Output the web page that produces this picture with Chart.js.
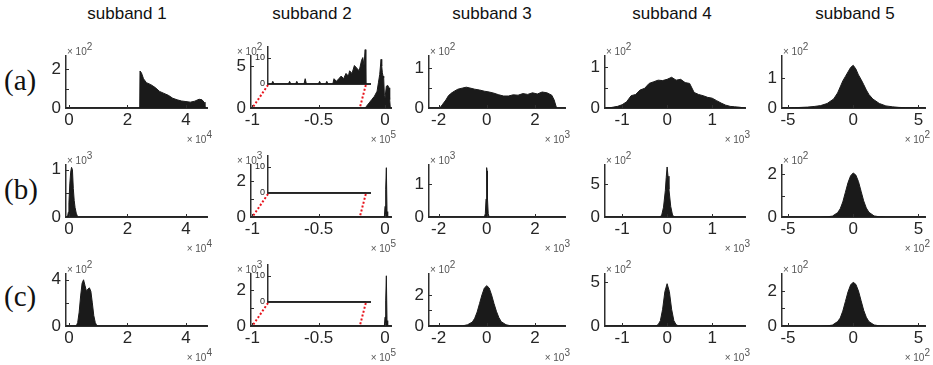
<!DOCTYPE html>
<html>
<head>
<meta charset="utf-8">
<script src="https://cdn.jsdelivr.net/npm/chart.js@4.4.0/dist/chart.umd.min.js"></script>
<style>
  body { margin: 0; background: #fff; }
  #fig { position: relative; width: 933px; height: 365px; overflow: hidden; font-family: "Liberation Sans", Arial, sans-serif; }
  #fig canvas { position: absolute; }
  .title { position: absolute; top: 4px; font-size: 17px; color: #111; transform: translateX(-50%); white-space: nowrap; }
  .row { position: absolute; left: 4px; font-family: "Liberation Serif", "Times New Roman", serif; font-size: 29px; color: #111; }
  .exp { position: absolute; font-size: 10px; color: #555; white-space: nowrap; line-height: 12px; }
  .exp sup { font-size: 10px; vertical-align: 5px; line-height: 0; }
</style>
</head>
<body>
<div id="fig"></div>
<script>
// ---- data (x in units of 10^xExp, counts in units of 10^yExp) ----
const titles = ['subband 1', 'subband 2', 'subband 3', 'subband 4', 'subband 5'];
const rowNames = ['(a)', '(b)', '(c)'];

const xMin = [-0.1, -1.01, -2.4, -1.38, -5.46];
const xMax = [4.72, 0.045, 3.25, 1.73, 5.5];
const xTicks = [[0, 2, 4], [-1, -0.5, 0], [-2, 0, 2], [-1, 0, 1], [-5, 0, 5]];
const xExp = [4, 5, 3, 3, 2];

const rowAYMax = [2.67, 6.2, 1.3, 1.27, 1.73];
const rowBYMax = [1.1, 2.9, 1.58, 7.9, 2.42];
const rowCYMax = [4.5, 2.9, 3.35, 5.9, 2.97];
const rowAYLabels = [[0, 2], [0, 5], [0, 1], [0, 1], [0, 1]];
const rowBYLabels = [[0, 1], [0, 2], [0, 1], [0, 5], [0, 2]];
const rowCYLabels = [[0, 4], [0, 2], [0, 2], [0, 5], [0, 2]];
const rowAYMinor = [[1], [], [0.5], [0.5], []];
const rowBYMinor = [[0.5], [1], [], [], [1]];
const rowCYMinor = [[2], [1], [1], [], [1]];
const rowAYExp = [2, 2, 2, 2, 2];
const rowBYExp = [3, 3, 3, 2, 2];
const rowCYExp = [2, 3, 2, 2, 2];

// row (a)
const a1X = [-0.1, 2.42, 2.43, 2.48, 2.55, 2.65, 2.8, 2.95, 3.1, 3.25, 3.4, 3.55, 3.7, 3.85, 4.0, 4.15, 4.3, 4.45, 4.55, 4.62, 4.65, 4.72];
const a1Y = [0, 0, 1.9, 1.8, 1.5, 1.3, 1.2, 1.05, 0.85, 0.75, 0.65, 0.5, 0.42, 0.36, 0.33, 0.3, 0.35, 0.45, 0.42, 0.3, 0, 0];
const a2X = [-1.01, -0.15, -0.14, -0.12, -0.1, -0.08, -0.06, -0.05, -0.04, -0.03, -0.025, -0.02, -0.015, -0.01, -0.005, 0, 0.01, 0.02, 0.03, 0.035, 0.04];
const a2Y = [0, 0, 0.2, 0.6, 1.0, 1.4, 2.0, 3.0, 4.0, 5.8, 5.0, 4.2, 3.8, 3.6, 1.5, 1.2, 2.6, 2.7, 2.4, 1.0, 0];
const a3X = [-2.4, -1.95, -1.85, -1.7, -1.6, -1.5, -1.35, -1.2, -1.0, -0.85, -0.7, -0.5, -0.3, -0.1, 0.1, 0.3, 0.5, 0.7, 0.9, 1.1, 1.3, 1.5, 1.7, 1.9, 2.1, 2.3, 2.5, 2.7, 2.8, 2.9, 3.25];
const a3Y = [0, 0, 0.08, 0.2, 0.3, 0.36, 0.42, 0.47, 0.5, 0.52, 0.5, 0.47, 0.45, 0.42, 0.4, 0.37, 0.33, 0.3, 0.3, 0.33, 0.32, 0.36, 0.34, 0.38, 0.35, 0.4, 0.38, 0.32, 0.2, 0, 0];
const a4X = [-1.38, -1.25, -1.1, -1.0, -0.9, -0.8, -0.7, -0.6, -0.5, -0.4, -0.3, -0.2, -0.1, 0, 0.1, 0.2, 0.3, 0.4, 0.5, 0.6, 0.7, 0.8, 0.9, 1.0, 1.1, 1.2, 1.3, 1.4, 1.5, 1.6, 1.73];
const a4Y = [0, 0.01, 0.04, 0.08, 0.15, 0.3, 0.33, 0.44, 0.48, 0.6, 0.64, 0.68, 0.67, 0.7, 0.75, 0.68, 0.7, 0.62, 0.6, 0.38, 0.33, 0.3, 0.26, 0.24, 0.18, 0.12, 0.07, 0.04, 0.03, 0.02, 0];
const a5X = [-5.46, -4.5, -4, -3.5, -3, -2.5, -2, -1.5, -1.2, -1, -0.8, -0.6, -0.4, -0.2, 0, 0.2, 0.4, 0.6, 0.8, 1, 1.2, 1.5, 2, 2.5, 3, 3.5, 4, 5.5];
const a5Y = [0, 0.01, 0.02, 0.03, 0.05, 0.08, 0.15, 0.3, 0.5, 0.7, 0.9, 1.05, 1.2, 1.35, 1.42, 1.3, 1.1, 0.95, 0.78, 0.6, 0.45, 0.3, 0.15, 0.07, 0.04, 0.02, 0.01, 0];

// row (b)
const b1X = [-0.1, -0.05, -0.02, 0, 0.03, 0.06, 0.09, 0.12, 0.15, 0.18, 0.21, 0.25, 0.3, 4.72];
const b1Y = [0, 0, 0.1, 0.3, 0.7, 0.95, 1.05, 1.0, 0.6, 0.35, 0.2, 0.08, 0, 0];
const b2X = [-1.01, -0.005, 0, 0.005, 0.01, 0.015, 0.02, 0.045];
const b2Y = [0, 0, 0.6, 1.55, 2.75, 0.3, 0, 0];
const b3X = [-2.4, -0.1, -0.06, -0.03, -0.01, 0, 0.01, 0.03, 0.06, 0.1, 3.25];
const b3Y = [0, 0, 0.1, 0.55, 1.2, 1.5, 1.4, 0.55, 0.1, 0, 0];
const b4X = [-1.38, -0.16, -0.12, -0.08, -0.04, -0.02, 0, 0.02, 0.04, 0.08, 0.12, 0.16, 1.73];
const b4Y = [0, 0, 0.3, 1.5, 4.0, 6.0, 7.6, 6.2, 4.2, 1.6, 0.3, 0, 0];
const b5X = [-5.46, -2.5, -2, -1.6, -1.2, -1, -0.8, -0.6, -0.4, -0.2, 0, 0.2, 0.4, 0.6, 0.8, 1, 1.2, 1.6, 2, 2.5, 5.5];
const b5Y = [0, 0, 0.01, 0.04, 0.2, 0.38, 0.7, 1.15, 1.6, 1.92, 2.05, 1.95, 1.65, 1.2, 0.75, 0.42, 0.22, 0.05, 0.01, 0, 0];

// row (c)
const c1X = [-0.1, 0.2, 0.25, 0.3, 0.35, 0.4, 0.45, 0.5, 0.55, 0.6, 0.65, 0.7, 0.75, 0.8, 0.85, 0.9, 0.95, 1.0, 4.72];
const c1Y = [0, 0, 0, 0.3, 1.2, 2.6, 3.7, 4.0, 3.5, 3.0, 3.2, 3.3, 3.0, 2.0, 0.9, 0.3, 0.05, 0, 0];
const c2X = [-1.01, -0.005, 0, 0.005, 0.01, 0.015, 0.02, 0.045];
const c2Y = [0, 0, 0.5, 1.4, 2.8, 0.3, 0, 0];
const c3X = [-2.4, -1.0, -0.8, -0.6, -0.5, -0.4, -0.3, -0.2, -0.1, 0, 0.1, 0.2, 0.3, 0.4, 0.5, 0.6, 0.8, 1.0, 3.25];
const c3Y = [0, 0.01, 0.08, 0.25, 0.5, 0.9, 1.45, 2.0, 2.45, 2.6, 2.45, 2.0, 1.45, 0.95, 0.55, 0.28, 0.08, 0.01, 0];
const c4X = [-1.38, -0.25, -0.2, -0.15, -0.1, -0.05, 0, 0.05, 0.1, 0.15, 0.2, 0.25, 1.73];
const c4Y = [0, 0.02, 0.15, 0.6, 1.9, 3.9, 4.8, 3.9, 1.9, 0.6, 0.15, 0.02, 0];
const c5X = [-5.46, -2.5, -2, -1.6, -1.2, -1, -0.8, -0.6, -0.4, -0.2, 0, 0.2, 0.4, 0.6, 0.8, 1, 1.2, 1.6, 2, 2.5, 5.5];
const c5Y = [0, 0, 0.01, 0.05, 0.25, 0.45, 0.85, 1.4, 1.95, 2.35, 2.5, 2.38, 2.0, 1.45, 0.9, 0.5, 0.25, 0.06, 0.01, 0, 0];

// zoomed insets of subband 2 (x from -1 to -0.15, raw counts)
const insetXMin = -1, insetXMax = -0.15;
const insetYMax = 14;
const insetYTicks = [0, 10];
const insetAX = [-1, -0.97, -0.96, -0.95, -0.83, -0.82, -0.81, -0.77, -0.76, -0.75, -0.7, -0.69, -0.68, -0.58, -0.57, -0.56, -0.52, -0.51, -0.5, -0.46, -0.45, -0.43, -0.41, -0.39, -0.37, -0.35, -0.33, -0.32, -0.3, -0.28, -0.26, -0.24, -0.22, -0.21, -0.2, -0.19, -0.185];
const insetAY = [0, 0, 1, 0, 0, 1, 0, 0, 1, 0, 0, 2, 0, 0, 1, 0, 0, 1, 0, 0, 2, 1, 2, 3, 2, 4, 3, 5, 4, 7, 6, 5, 9, 10, 7, 13, 0];
const insetBX = [-1, -0.185];
const insetBY = [0, 0];
const insetCX = [-1, -0.185];
const insetCY = [0, 0];

// ---- layout ----
const colLeft = [66, 251, 429, 605, 782];
const colRight = [207, 391, 565, 745, 925];
const rowTop = [56, 165, 274];
const rowBottom = [108, 217, 326];
const titleX = [127, 312, 492, 672, 855];
const rowLabelTop = [64, 173, 280];
const insetLeft = 268, insetRight = 370;
const insetTop = [47, 156, 265];
const insetBottom = [84, 193, 302];

const INK = '#1a1a1a';
const AXIS = '#2e2e2e';
const TXT = '#262626';
const FONT = '"Liberation Sans", Arial, sans-serif';

const fig = document.getElementById('fig');

const rows = [
  { xs: [a1X, a2X, a3X, a4X, a5X], ys: [a1Y, a2Y, a3Y, a4Y, a5Y], yMax: rowAYMax, yLab: rowAYLabels, yMinor: rowAYMinor, yExp: rowAYExp },
  { xs: [b1X, b2X, b3X, b4X, b5X], ys: [b1Y, b2Y, b3Y, b4Y, b5Y], yMax: rowBYMax, yLab: rowBYLabels, yMinor: rowBYMinor, yExp: rowBYExp },
  { xs: [c1X, c2X, c3X, c4X, c5X], ys: [c1Y, c2Y, c3Y, c4Y, c5Y], yMax: rowCYMax, yLab: rowCYLabels, yMinor: rowCYMinor, yExp: rowCYExp }
];
const insets = [[insetAX, insetAY], [insetBX, insetBY], [insetCX, insetCY]];

// matlab style tick marks pointing into the axes
const inwardTicks = {
  id: 'inwardTicks',
  afterDatasetsDraw(chart, args, opts) {
    const { ctx, chartArea: a, scales } = chart;
    ctx.save();
    ctx.strokeStyle = AXIS;
    ctx.lineWidth = 1;
    ctx.beginPath();
    (opts.x || []).forEach(v => {
      const px = Math.round(scales.x.getPixelForValue(v)) + 0.5;
      ctx.moveTo(px, a.bottom);
      ctx.lineTo(px, a.bottom - 3);
    });
    (opts.y || []).forEach(v => {
      const py = Math.round(scales.y.getPixelForValue(v)) + 0.5;
      ctx.moveTo(a.left, py);
      ctx.lineTo(a.left + 3, py);
    });
    ctx.stroke();
    ctx.restore();
  }
};

function addCanvas(left, top, w, h) {
  const cv = document.createElement('canvas');
  cv.width = w;
  cv.height = h;
  cv.style.left = left + 'px';
  cv.style.top = top + 'px';
  fig.appendChild(cv);
  return cv;
}

function addText(cls, html, style) {
  const d = document.createElement('div');
  d.className = cls;
  d.innerHTML = html;
  Object.assign(d.style, style);
  fig.appendChild(d);
}

function makePanel(r, c) {
  const row = rows[r];
  const L = colLeft[c], R = colRight[c], T = rowTop[r], B = rowBottom[r];
  const padL = 40, padT = 10, padR = 14, padB = 30;
  const cv = addCanvas(L - padL, T - padT, R - L + padL + padR, B - T + padT + padB);
  const pts = row.xs[c].map((x, i) => ({ x: x, y: row.ys[c][i] }));
  const labs = row.yLab[c];
  const chart = new Chart(cv, {
    type: 'line',
    data: {
      datasets: [{
        data: pts,
        borderColor: INK,
        backgroundColor: INK,
        borderWidth: 1,
        pointRadius: 0,
        fill: 'origin',
        tension: 0
      }]
    },
    options: {
      responsive: false,
      animation: false,
      devicePixelRatio: 1,
      layout: { padding: { left: 0, top: padT, right: padR, bottom: 0 } },
      plugins: {
        legend: { display: false },
        tooltip: { enabled: false },
        inwardTicks: { x: xTicks[c], y: labs.concat(row.yMinor[c]) }
      },
      scales: {
        x: {
          type: 'linear',
          min: xMin[c],
          max: xMax[c],
          afterBuildTicks: s => { s.ticks = xTicks[c].map(v => ({ value: v })); },
          afterFit: s => { s.height = padB; s.paddingLeft = 0; s.paddingRight = 0; },
          grid: { display: false, drawTicks: false },
          border: { color: AXIS, width: 2 },
          ticks: { font: { size: 17, family: FONT }, color: TXT, padding: 2, maxRotation: 0, autoSkip: false, callback: v => String(v) }
        },
        y: {
          type: 'linear',
          min: 0,
          max: row.yMax[c],
          afterBuildTicks: s => { s.ticks = labs.concat(row.yMinor[c]).map(v => ({ value: v })); },
          afterFit: s => { s.width = padL; s.paddingTop = 0; s.paddingBottom = 0; },
          grid: { display: false, drawTicks: false },
          border: { color: AXIS, width: 1.5 },
          ticks: { font: { size: 17, family: FONT }, color: TXT, padding: 5, autoSkip: false, callback: v => labs.includes(v) ? String(v) : '' }
        }
      }
    },
    plugins: [inwardTicks]
  });

  // exponent labels
  addText('exp', '&times; 10<sup>' + row.yExp[c] + '</sup>', {
    left: (c === 1 ? L - 14 : L + 1) + 'px', top: (T - 10) + 'px'
  });
  addText('exp', '&times; 10<sup>' + xExp[c] + '</sup>', {
    right: (933 - (R + 5)) + 'px', top: (B + 26) + 'px'
  });
  return { chart: chart, left: L - padL, top: T - padT };
}

function makeInset(r, main) {
  const L = insetLeft, R = insetRight, T = insetTop[r], B = insetBottom[r];
  const padL = 20, padT = 6, padR = 6;
  const canvasTop = T - padT, canvasLeft = L - padL;
  const padB = rowBottom[r] + 4 - B;
  const cv = addCanvas(canvasLeft, canvasTop, R - L + padL + padR, B - T + padT + padB);
  const pts = insets[r][0].map((x, i) => ({ x: x, y: insets[r][1][i] }));
  const zoomLines = {
    id: 'zoomLines',
    afterDraw(chart) {
      const { ctx, chartArea: a } = chart;
      const mx = v => main.chart.scales.x.getPixelForValue(v) + main.left - canvasLeft;
      const my = rowBottom[r] - canvasTop;
      ctx.save();
      ctx.strokeStyle = '#e8141c';
      ctx.lineWidth = 2;
      ctx.setLineDash([2, 2]);
      ctx.beginPath();
      ctx.moveTo(a.left, a.bottom + 1);
      ctx.lineTo(mx(insetXMin), my);
      ctx.moveTo(chart.scales.x.getPixelForValue(-0.185), a.bottom + 1);
      ctx.lineTo(mx(-0.19), my);
      ctx.stroke();
      ctx.restore();
    }
  };
  new Chart(cv, {
    type: 'line',
    data: {
      datasets: [{
        data: pts,
        borderColor: INK,
        backgroundColor: INK,
        borderWidth: 1,
        pointRadius: 0,
        fill: 'origin',
        tension: 0
      }]
    },
    options: {
      responsive: false,
      animation: false,
      devicePixelRatio: 1,
      layout: { padding: { left: 0, top: padT, right: padR, bottom: 0 } },
      plugins: {
        legend: { display: false },
        tooltip: { enabled: false },
        inwardTicks: { x: [], y: insetYTicks }
      },
      scales: {
        x: {
          type: 'linear',
          min: insetXMin,
          max: insetXMax,
          afterFit: s => { s.height = padB; s.paddingLeft = 0; s.paddingRight = 0; },
          grid: { display: false, drawTicks: false },
          border: { color: AXIS, width: 2 },
          ticks: { display: false }
        },
        y: {
          type: 'linear',
          min: 0,
          max: insetYMax,
          afterBuildTicks: s => { s.ticks = insetYTicks.map(v => ({ value: v })); },
          afterFit: s => { s.width = padL; s.paddingTop = 0; s.paddingBottom = 0; },
          grid: { display: false, drawTicks: false },
          border: { color: AXIS, width: 1.5 },
          ticks: { font: { size: 9, family: FONT }, color: TXT, padding: 3, autoSkip: false, callback: v => String(v) }
        }
      }
    },
    plugins: [inwardTicks, zoomLines]
  });
}

titles.forEach((t, c) => addText('title', t, { left: titleX[c] + 'px' }));
rowNames.forEach((t, r) => addText('row', t, { top: rowLabelTop[r] + 'px' }));

for (let r = 0; r < 3; r++) {
  for (let c = 0; c < 5; c++) {
    const p = makePanel(r, c);
    if (c === 1) makeInset(r, p);
  }
}
</script>
</body>
</html>
